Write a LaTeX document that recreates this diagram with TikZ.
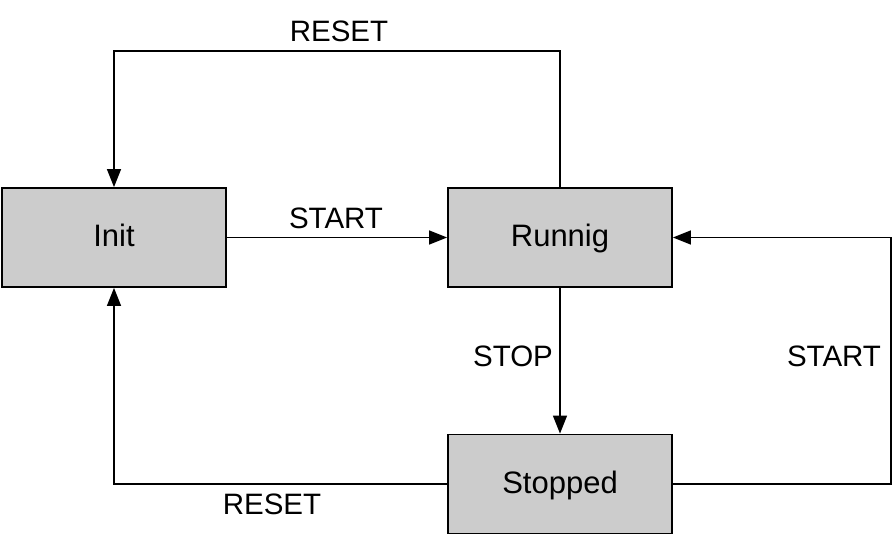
\documentclass[tikz,border=0pt]{standalone}
\usepackage{fontspec}
\setmainfont{Liberation Sans}
\usetikzlibrary{arrows.meta}
\begin{document}
\begin{tikzpicture}[x=1pt,y=-1pt,
  state/.style={draw=black, line width=1.8pt, fill=boxgray, minimum width=224pt, minimum height=99pt, inner sep=0pt, text height=22pt, text depth=4pt, font=\fontsize{31}{36}\selectfont},
  lbl/.style={font=\fontsize{29.5}{34}\selectfont, inner sep=0pt},
  arr/.style={line width=1.4pt, -{Triangle[length=18pt,width=14pt]}},
  ln/.style={line width=1.4pt}]
\definecolor{boxgray}{HTML}{CCCCCC}
\useasboundingbox (0,0) rectangle (896,536);
\node[state] (init) at (114,237.5) {Init};
\node[state] (run) at (560,237.5) {Runnig};
\node[state] (stop) at (560,484) {Stopped};
\coordinate (tr) at (339,51);
\coordinate (rc) at (891,360);
\draw[arr] (init.east) -- (run.west);
\draw[arr] (run.north) |- (tr) -| (init.north);
\draw[arr] (run.south) -- (stop.north);
\draw[arr] (stop.west) -| (init.south);
\draw[arr] (stop.east) -| (rc) |- (run.east);
\node[lbl] (l1) at (339,31) {RESET};
\node[lbl] (l2) at (336,218) {START};
\node[lbl] (l3) at (513,356) {STOP};
\node[lbl] (l4) at (834,356) {START};
\node[lbl] (l5) at (272,504) {RESET};
\end{tikzpicture}
\end{document}
